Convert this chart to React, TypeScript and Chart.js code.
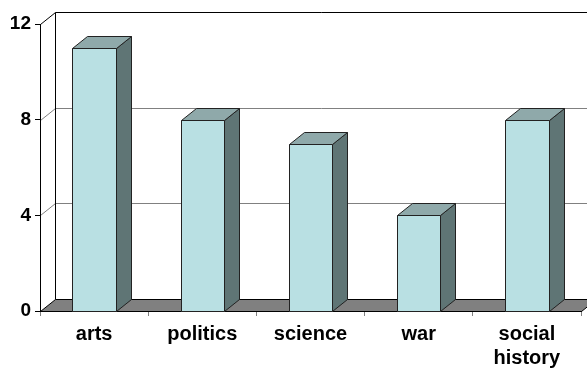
import React, { useEffect, useRef } from "react";
import { Chart, registerables } from "chart.js";

Chart.register(...registerables);

// Topic counts
const categories: (string | string[])[] = ["arts", "politics", "science", "war", ["social", "history"]];
const counts = [11, 8, 7, 4, 8];
const yTicks = [0, 4, 8, 12];

// depth of the 3-D box (to the right and up)
const DX = 15;
const DY = -12;

const FRONT = "#B9E0E3";
const TOP = "#8FA9AA";
const SIDE = "#5F7575";
const OUTLINE = "#222222";
const FLOOR = "#808080";
const GRID = "#808080";
const FONT = "'Liberation Sans', Arial, sans-serif";

const half = (v: number) => Math.round(v) + 0.5;

// walls, gridlines and floor, painted before the axes
const box3d = {
  id: "box3d",
  beforeDraw(chart: any) {
    const { ctx, chartArea: a, scales } = chart;
    const ys = scales.y;
    const left = half(a.left);
    const right = half(a.right);
    const bottom = half(a.bottom);
    const top = half(a.top);
    ctx.save();
    ctx.lineWidth = 1;

    // gridlines across side wall and back wall
    ctx.strokeStyle = GRID;
    yTicks.forEach((v) => {
      if (v === yTicks[0] || v === yTicks[yTicks.length - 1]) return;
      const py = half(ys.getPixelForValue(v));
      ctx.beginPath();
      ctx.moveTo(left, py);
      ctx.lineTo(left + DX, py + DY);
      ctx.lineTo(right + DX, py + DY);
      ctx.stroke();
    });

    // floor
    ctx.fillStyle = FLOOR;
    ctx.strokeStyle = "#000";
    ctx.beginPath();
    ctx.moveTo(left, bottom);
    ctx.lineTo(right, bottom);
    ctx.lineTo(right + DX, bottom + DY);
    ctx.lineTo(left + DX, bottom + DY);
    ctx.closePath();
    ctx.fill();
    ctx.stroke();

    // back wall edges and top of side wall
    ctx.beginPath();
    ctx.moveTo(left + DX, bottom + DY);
    ctx.lineTo(left + DX, top + DY);
    ctx.lineTo(right + DX, top + DY);
    ctx.moveTo(left, top);
    ctx.lineTo(left + DX, top + DY);
    ctx.stroke();
    ctx.restore();
  },
  afterDatasetsDraw(chart: any) {
    const { ctx } = chart;
    const meta = chart.getDatasetMeta(0);
    ctx.save();
    ctx.lineWidth = 1;
    ctx.strokeStyle = OUTLINE;
    ctx.lineJoin = "miter";
    meta.data.forEach((el: any) => {
      const { x, y, base, width } = el.getProps(["x", "y", "base", "width"], true);
      const l = half(x - width / 2);
      const r = half(x + width / 2);
      const t = half(y);
      const b = half(base);

      // side face
      ctx.fillStyle = SIDE;
      ctx.beginPath();
      ctx.moveTo(r, t);
      ctx.lineTo(r + DX, t + DY);
      ctx.lineTo(r + DX, b + DY);
      ctx.lineTo(r, b);
      ctx.closePath();
      ctx.fill();
      ctx.stroke();

      // top face
      ctx.fillStyle = TOP;
      ctx.beginPath();
      ctx.moveTo(l, t);
      ctx.lineTo(r, t);
      ctx.lineTo(r + DX, t + DY);
      ctx.lineTo(l + DX, t + DY);
      ctx.closePath();
      ctx.fill();
      ctx.stroke();

      // front face
      ctx.fillStyle = FRONT;
      ctx.beginPath();
      ctx.rect(l, t, r - l, b - t);
      ctx.fill();
      ctx.stroke();
    });
    ctx.restore();
  },
};

export default function App() {
  const canvasRef = useRef<HTMLCanvasElement | null>(null);

  useEffect(() => {
    if (!canvasRef.current) return;
    const chart = new Chart(canvasRef.current, {
      type: "bar",
      data: {
        labels: categories,
        datasets: [
          {
            data: counts,
            backgroundColor: "rgba(0,0,0,0)",
            borderWidth: 0,
            categoryPercentage: 1,
            barPercentage: 0.4,
          },
        ],
      },
      options: {
        animation: false,
        responsive: false,
        devicePixelRatio: 1,
        layout: { padding: { top: 24, right: 6, left: 0, bottom: 0 } },
        plugins: {
          legend: { display: false },
          tooltip: { enabled: false },
        },
        scales: {
          x: {
            grid: {
              display: true,
              drawOnChartArea: false,
              offset: true,
              tickLength: 5,
              color: GRID,
            },
            border: { display: true, color: "#000" },
            ticks: {
              color: "#000",
              font: { family: FONT, size: 20, weight: "bold", lineHeight: 1.2 },
              padding: 6,
              maxRotation: 0,
              autoSkip: false,
            },
            afterFit: (s: any) => {
              s.height = 57;
            },
          },
          y: {
            min: 0,
            max: 12,
            afterBuildTicks: (s: any) => {
              s.ticks = yTicks.map((v) => ({ value: v }));
            },
            grid: { drawOnChartArea: false, tickLength: 5, color: "#000" },
            border: { display: true, color: "#000" },
            ticks: {
              color: "#000",
              font: { family: FONT, size: 19, weight: "bold" },
              padding: 4,
            },
            afterFit: (s: any) => {
              s.width = 40;
            },
          },
        },
      },
      plugins: [box3d],
    });
    return () => chart.destroy();
  }, []);

  return (
    <div style={{ position: "absolute", left: 0, top: 0, width: 587, height: 368, background: "#fff" }}>
      <canvas ref={canvasRef} width={587} height={368} style={{ display: "block" }} />
    </div>
  );
}
